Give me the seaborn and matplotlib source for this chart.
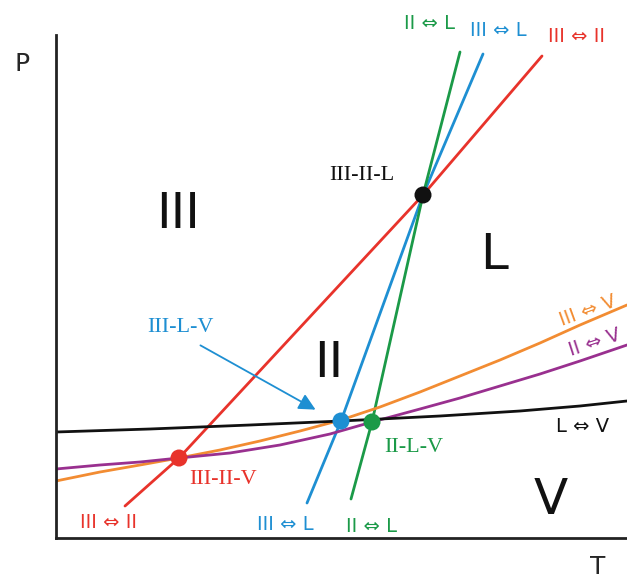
import matplotlib
matplotlib.use("Agg")
import matplotlib.pyplot as plt
import seaborn as sns

sns.set_style("white")
plt.rcParams['font.family'] = ['DejaVu Sans']

# phase boundaries (T, P)
red_T = [125, 179, 423, 542]          # III <-> II
red_P = [72, 120, 383, 522]
blue_T = [307, 341, 423, 483]         # III <-> L
blue_P = [75, 157, 383, 524]
green_T = [351, 372, 423, 460]        # II <-> L
green_P = [79, 156, 383, 526]
orange_T = [56, 100, 140, 179, 220, 260, 300, 341, 380, 420, 460, 500, 540, 580, 627]   # III <-> V
orange_P = [97, 106, 113, 120, 128, 137, 147, 158, 171, 186, 202, 218, 235, 253, 273]
purple_T = [56, 100, 140, 179, 230, 280, 330, 372, 420, 460, 500, 540, 580, 627]        # II <-> V
purple_P = [109, 113, 116, 120, 125, 133, 144, 156, 169, 180, 192, 204, 217, 233]
black_T = [56, 150, 250, 341, 440, 520, 580, 627]                                        # L <-> V
black_P = [146, 149, 153, 157, 162, 167, 172, 177]

# triple points
tp_names = ["III-II-V", "III-L-V", "II-L-V", "III-II-L"]
tp_T = [179, 341, 372, 423]
tp_P = [120, 157, 156, 383]

RED = "#e8332b"
BLUE = "#1e8fd2"
GREEN = "#1b9a48"
ORANGE = "#f28c32"
PURPLE = "#99308f"
BLACK = "#111111"

fig = plt.figure(figsize=(6.27, 5.78), dpi=100)
ax = fig.add_axes([56 / 627, 40 / 578, 1 - 56 / 627, 503 / 578])
ax.set_xlim(56, 627)
ax.set_ylim(40, 543)

lines = [(red_T, red_P, RED), (blue_T, blue_P, BLUE), (green_T, green_P, GREEN),
         (orange_T, orange_P, ORANGE), (purple_T, purple_P, PURPLE),
         (black_T, black_P, BLACK)]
for t, p, c in lines:
    sns.lineplot(x=t, y=p, sort=False, estimator=None, color=c, lw=2, ax=ax)

sns.scatterplot(x=tp_T, y=tp_P, hue=tp_names, palette=[RED, BLUE, GREEN, BLACK],
                s=150, edgecolor="none", legend=False, zorder=5, ax=ax)

sns.despine(ax=ax)
for s in ["left", "bottom"]:
    ax.spines[s].set_linewidth(2)
    ax.spines[s].set_color("#222222")
ax.set_xticks([])
ax.set_yticks([])

# axis names
ax.text(22, 578 - 64, "P", fontsize=18, ha="center", va="center")
ax.text(598, 578 - 567, "T", fontsize=18, ha="center", va="center")

# phase regions
big = dict(fontsize=36, ha="center", va="center", color=BLACK)
ax.text(178, 578 - 214, "III", **big)
ax.text(494, 578 - 255, "L", **big)
ax.text(329, 578 - 363, "II", **big)
ax.text(551, 578 - 500, "V", **big)

# triple point labels
serif = dict(fontsize=16, ha="center", va="center", family="Liberation Serif")
ax.text(362, 578 - 175, "III-II-L", color=BLACK, **serif)
ax.text(180, 578 - 327, "III-L-V", color=BLUE, **serif)
ax.text(414, 578 - 448, "II-L-V", color=GREEN, **serif)
ax.text(223, 578 - 480, "III-II-V", color=RED, **serif)

ax.annotate("", xy=(318, 578 - 411), xytext=(198, 578 - 344),
            arrowprops=dict(arrowstyle="-|>", color=BLUE, lw=1.3, mutation_scale=25))

# boundary labels
sm = dict(fontsize=14, ha="center", va="center")
ax.text(429, 578 - 23, "II ⇔ L", color=GREEN, **sm)
ax.text(498, 578 - 30, "III ⇔ L", color=BLUE, **sm)
ax.text(577, 578 - 36, "III ⇔ II", color=RED, **sm)
ax.text(588, 578 - 311, "III ⇔ V", color=ORANGE, rotation=20, **sm)
ax.text(595, 578 - 343, "II ⇔ V", color=PURPLE, rotation=18, **sm)
ax.text(583, 578 - 427, "L ⇔ V", color=BLACK, **sm)
ax.text(108, 578 - 522, "III ⇔ II", color=RED, **sm)
ax.text(285, 578 - 524, "III ⇔ L", color=BLUE, **sm)
ax.text(372, 578 - 527, "II ⇔ L", color=GREEN, **sm)

fig.savefig("out.png", dpi=100)
